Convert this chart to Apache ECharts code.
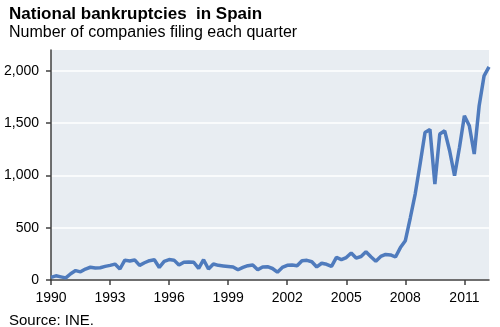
<!DOCTYPE html>
<html><head><meta charset="utf-8">
<script src="https://cdn.jsdelivr.net/npm/echarts@6/dist/echarts.min.js"></script>
<style>html,body{margin:0;padding:0;background:#fff}#c{width:500px;height:327px}</style>
</head><body><div id="c"></div>
<script>
const titleText = 'National bankruptcies  in Spain';
const subtitleText = 'Number of companies filing each quarter';
const sourceText = 'Source: INE.';
const startYear = 1990;
const quarterCount = 90;
const yTicks = [0, 500, 1000, 1500, 2000];
const yMax = 2200;
const filings = [
  25, 40, 30, 20, 60, 90, 78, 105, 122, 115, 117, 130,
  140, 152, 105, 190, 182, 192, 140, 165, 185, 193, 120, 178,
  195, 190, 143, 170, 172, 170, 111, 194, 105, 153, 140, 135,
  130, 125, 98, 120, 137, 143, 98, 125, 127, 110, 75, 120,
  140, 143, 137, 185, 188, 175, 125, 160, 150, 130, 216, 195,
  215, 258, 210, 225, 270, 223, 180, 225, 245, 240, 220, 310,
  376, 593, 822, 1109, 1411, 1440, 918, 1396, 1427, 1236, 997, 1268,
  1571, 1475, 1205, 1667, 1953, 2039
];
const quarters = [];
for (let i = 0; i < quarterCount; i++) quarters.push((startYear + Math.floor(i / 4)) + ' Q' + (i % 4 + 1));

const chart = echarts.init(document.getElementById('c'), null, {renderer: 'canvas'});
const isTick = (idx) => idx % 12 === 0;
chart.setOption({
  animation: false,
  textStyle: {fontFamily: 'Liberation Sans, Arial, sans-serif'},
  title: [
    {text: titleText, left: 4, top: 1, textStyle: {fontSize: 17, fontWeight: 'bold', color: '#000', fontFamily: 'Liberation Sans'}},
    {text: subtitleText, left: 4, top: 20, textStyle: {fontSize: 16, fontWeight: 'normal', color: '#000', fontFamily: 'Liberation Sans'}},
    {text: sourceText, left: 4, top: 308, textStyle: {fontSize: 15, fontWeight: 'normal', color: '#000', fontFamily: 'Liberation Sans'}}
  ],
  grid: {left: 51, right: 11, top: 50, bottom: 47, show: true, backgroundColor: '#e8edf2', borderWidth: 0},
  xAxis: {
    type: 'category', data: quarters, boundaryGap: false,
    axisLine: {lineStyle: {color: '#404040', width: 1.5}},
    axisTick: {interval: (i) => isTick(i), length: 5, lineStyle: {color: '#404040', width: 1.5}},
    axisLabel: {interval: (i) => isTick(i), formatter: (v) => v.slice(0, 4), color: '#000', fontSize: 14, margin: 11},
    splitLine: {show: false}
  },
  yAxis: {
    type: 'value', min: yTicks[0], max: yMax, interval: 500,
    axisLine: {show: true, lineStyle: {color: '#404040', width: 1.5}},
    axisTick: {show: true, length: 5, customValues: yTicks, lineStyle: {color: '#404040', width: 1.5}},
    axisLabel: {color: '#000', fontSize: 14, margin: 12, customValues: yTicks, formatter: (v) => v.toLocaleString('en-US')},
    splitLine: {lineStyle: {color: '#ffffff', width: 1.5}}
  },
  series: [{
    type: 'line', data: filings, symbol: 'none', smooth: false,
    lineStyle: {color: '#4f7bbd', width: 3.5}
  }]
});
</script></body></html>
